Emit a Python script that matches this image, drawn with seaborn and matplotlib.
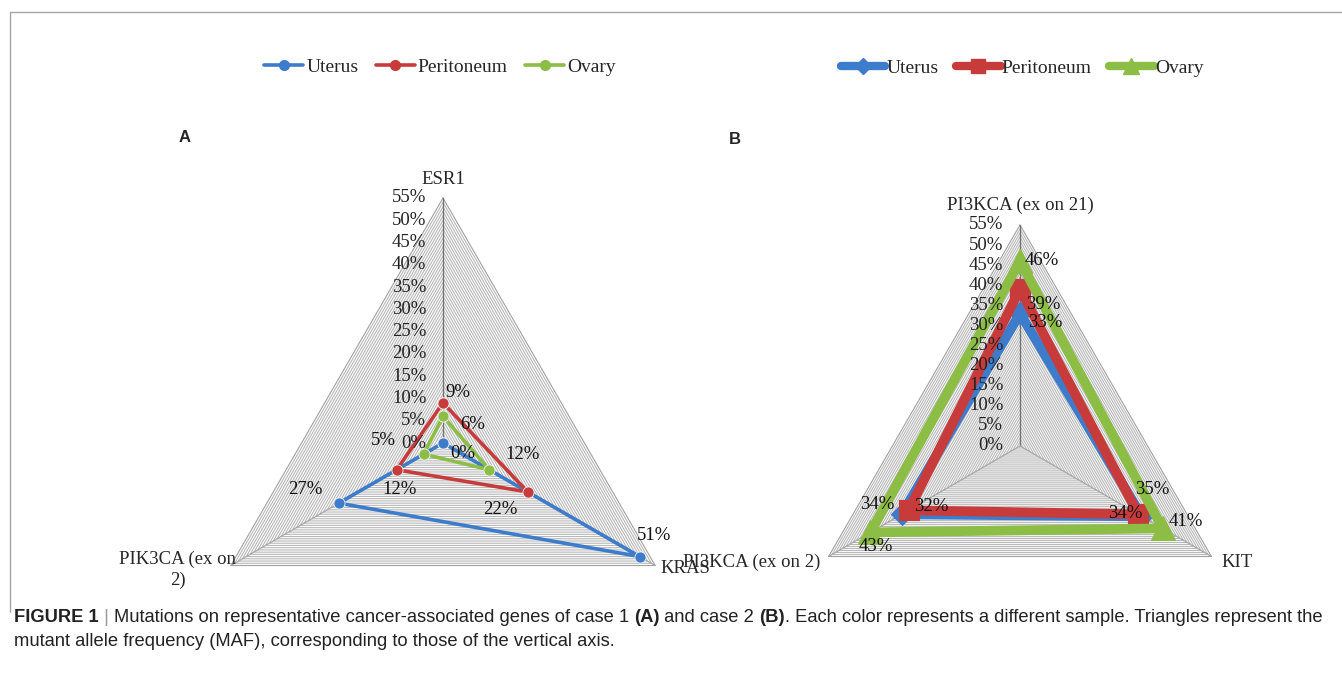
import matplotlib
matplotlib.use('Agg')
import matplotlib.pyplot as plt
import seaborn as sns
import pandas as pd
import numpy as np
from matplotlib.lines import Line2D

# ---- data ----
samples = ['Uterus', 'Peritoneum', 'Ovary']
colors = ['#3d7ccb', '#c83b3b', '#8cbd45']

genes_a = ['ESR1', 'KRAS', 'PIK3CA (ex on\n2)']
uterus_a = [0, 51, 27]
peritoneum_a = [9, 22, 12]
ovary_a = [6, 12, 5]

genes_b = ['PI3KCA (ex on 21)', 'KIT', 'PI3KCA (ex on 2)']
uterus_b = [33, 35, 34]
peritoneum_b = [39, 34, 32]
ovary_b = [46, 41, 43]

tick_vals = list(range(0, 56, 5))
tick_labels = [f'{t}%' for t in tick_vals]
r_max = 55

sns.set_theme(style='white')
plt.rcParams['font.family'] = ['Liberation Serif', 'DejaVu Serif']

W, H = 1342, 680
fig = plt.figure(figsize=(W / 100, H / 100), dpi=100)

ANG = np.deg2rad([90, -30, 210])


def to_xy(vals):
    v = np.asarray(vals, float)
    return v * np.cos(ANG), v * np.sin(ANG)


def make_df(series):
    rows = []
    for name, vals in series.items():
        x, y = to_xy(vals)
        for k in [0, 1, 2, 0]:
            rows.append({'sample': name, 'x': x[k], 'y': y[k]})
    return pd.DataFrame(rows)


def make_ax(x0, x1, y0, y1, cx, cy, s):
    ax = fig.add_axes([x0 / W, 1 - y1 / H, (x1 - x0) / W, (y1 - y0) / H])
    ax.set_xlim((x0 - cx) / s, (x1 - cx) / s)
    ax.set_ylim((cy - y1) / s, (cy - y0) / s)
    ax.axis('off')
    return ax


def draw_grid(ax):
    for lv in range(1, r_max + 1):
        x, y = to_xy([lv] * 3)
        c = '#a0a0a0' if lv == r_max else '#b8b8b8'
        ax.plot(np.append(x, x[0]), np.append(y, y[0]), color=c, lw=0.8, zorder=1)
    for i, a in enumerate(ANG):
        ax.plot([0, r_max * np.cos(a)], [0, r_max * np.sin(a)],
                color='#707070' if i == 0 else '#a8a8a8', lw=0.9, zorder=1.5)
    for t, lab in zip(tick_vals, tick_labels):
        ax.annotate(lab, (0, t), xytext=(-12, 0), textcoords='offset points',
                    ha='right', va='center', fontsize=13.5, color='#222222', zorder=6)


def px2pt(d):
    return (d[0] * 0.72, d[1] * 0.72)


# ---------------- panel A ----------------
ax_a = make_ax(95, 760, 140, 600, 443, 443, 245 / r_max)
draw_grid(ax_a)
df_a = make_df({'Uterus': uterus_a, 'Peritoneum': peritoneum_a, 'Ovary': ovary_a})
sns.lineplot(data=df_a, x='x', y='y', hue='sample', hue_order=samples, palette=colors,
             style='sample', style_order=samples, markers=['o', 'o', 'o'], dashes=False,
             sort=False, estimator=None, lw=2.6, markersize=8, markeredgewidth=0.6,
             markeredgecolor='#f2f2f2', legend=False, ax=ax_a, zorder=4)

offs_a = {
    'Uterus': [(20, -10), (14, 21), (-34, 14)],
    'Peritoneum': [(15, 10), (-28, -18), (3, -20)],
    'Ovary': [(30, -8), (33, 15), (-40, 14)],
}
for name, vals in zip(samples, [uterus_a, peritoneum_a, ovary_a]):
    x, y = to_xy(vals)
    for k in range(3):
        ax_a.annotate(f'{vals[k]}%', (x[k], y[k]), xytext=px2pt(offs_a[name][k]),
                      textcoords='offset points', ha='center', va='center',
                      fontsize=13.5, color='#111111', zorder=7)

ax_a.annotate(genes_a[0], (0, r_max), xytext=(0, 7), textcoords='offset points',
              ha='center', va='bottom', fontsize=13.5)
xk, yk = to_xy([r_max] * 3)
ax_a.annotate(genes_a[1], (xk[1], yk[1]), xytext=(4, -2), textcoords='offset points',
              ha='left', va='center', fontsize=13.5)
ax_a.annotate(genes_a[2], (xk[2], yk[2]), xytext=(4, -3), textcoords='offset points',
              ha='right', va='center', multialignment='center', fontsize=13.5,
              linespacing=1.3)

# ---------------- panel B ----------------
ax_b = make_ax(770, 1335, 140, 600, 1020, 446, 221 / r_max)
draw_grid(ax_b)
df_b = make_df({'Uterus': uterus_b, 'Peritoneum': peritoneum_b, 'Ovary': ovary_b})
mk_b = {'Uterus': ('D', 11), 'Peritoneum': ('s', 15), 'Ovary': ('^', 17)}
for name, col in zip(samples, colors):
    sub = df_b[df_b['sample'] == name]
    m, ms = mk_b[name]
    sns.lineplot(data=sub, x='x', y='y', color=col, sort=False, estimator=None,
                 lw=7, marker=m, markersize=ms, markeredgewidth=0.8,
                 markeredgecolor=col, solid_joinstyle='miter', legend=False,
                 ax=ax_b, zorder=4)

offs_b = {
    'Uterus': [(25, -9), (10, 27), (-24, 10)],
    'Peritoneum': [(23, -15), (-13, 1), (23, 4)],
    'Ovary': [(22, 1), (23, 7), (5, -14)],
}
for name, vals in zip(samples, [uterus_b, peritoneum_b, ovary_b]):
    x, y = to_xy(vals)
    for k in range(3):
        ax_b.annotate(f'{vals[k]}%', (x[k], y[k]), xytext=px2pt(offs_b[name][k]),
                      textcoords='offset points', ha='center', va='center',
                      fontsize=13.5, color='#111111', zorder=7)

ax_b.annotate(genes_b[0], (0, r_max), xytext=(0, 8), textcoords='offset points',
              ha='center', va='bottom', fontsize=13.5)
xk, yk = to_xy([r_max] * 3)
ax_b.annotate(genes_b[1], (xk[1], yk[1]), xytext=(7, -4), textcoords='offset points',
              ha='left', va='center', fontsize=13.5)
ax_b.annotate(genes_b[2], (xk[2], yk[2]), xytext=(-6, -4), textcoords='offset points',
              ha='right', va='center', fontsize=13.5)

# ---------------- legends ----------------
h_a = [Line2D([], [], color=c, lw=2.6, marker='o', markersize=7) for c in colors]
fig.legend(h_a, samples, loc='center', bbox_to_anchor=(440 / W, 1 - 67 / H), ncol=3,
           frameon=False, fontsize=14, handlelength=2.0, handletextpad=0.15,
           columnspacing=0.9)
h_b = [Line2D([], [], color=c, lw=6, marker=mk_b[n][0], markersize=mk_b[n][1] * 0.7,
              solid_capstyle='round') for n, c in zip(samples, colors)]
fig.legend(h_b, samples, loc='center', bbox_to_anchor=(1022 / W, 1 - 68 / H), ncol=3,
           frameon=False, fontsize=14, handlelength=2.3, handletextpad=0.05,
           columnspacing=0.9)

# panel letters
fig.text(185 / W, 1 - 138 / H, 'A', fontsize=12, fontweight='bold',
         family='Liberation Sans', ha='center', va='center')
fig.text(735 / W, 1 - 140 / H, 'B', fontsize=12, fontweight='bold',
         family='Liberation Sans', ha='center', va='center')

# outer frame (left and top edges)
fig.add_artist(Line2D([10 / W, 10 / W, 1.0], [1 - 612 / H, 1 - 12 / H, 1 - 12 / H],
                      color='#a6a6a6', lw=1.0))

# ---------------- caption ----------------
renderer = fig.canvas.get_renderer()


def text_width(s, size, weight):
    t = fig.text(0, 0, '|' + s + '|', fontsize=size, fontweight=weight,
                 family='Liberation Sans')
    t2 = fig.text(0, 0, '||', fontsize=size, fontweight=weight, family='Liberation Sans')
    w = t.get_window_extent(renderer).width - t2.get_window_extent(renderer).width
    t.remove()
    t2.remove()
    return w


line1 = [('FIGURE 1', 'bold', '#222222'), (' | ', 'normal', '#9a9a9a'),
         ('Mutations on representative cancer-associated genes of case 1 ', 'normal', '#222222'),
         ('(A)', 'bold', '#222222'), (' and case 2 ', 'normal', '#222222'),
         ('(B)', 'bold', '#222222'),
         ('. Each color represents a different sample. Triangles represent the', 'normal', '#222222')]
line2 = [('mutant allele frequency (MAF), corresponding to those of the vertical axis.',
          'normal', '#222222')]

base = 11
total = sum(text_width(s, base, w) for s, w, _ in line1)
cap_size = base * 1311 / total


def draw_line(parts, x_px, y_px, size):
    x = x_px
    for s, w, c in parts:
        fig.text(x / W, 1 - y_px / H, s, fontsize=size, fontweight=w, color=c,
                 family='Liberation Sans', ha='left', va='center')
        x += text_width(s, size, w)


draw_line(line1, 14, 618, cap_size)
draw_line(line2, 14, 642, cap_size)

fig.savefig('out.png', dpi=100)
